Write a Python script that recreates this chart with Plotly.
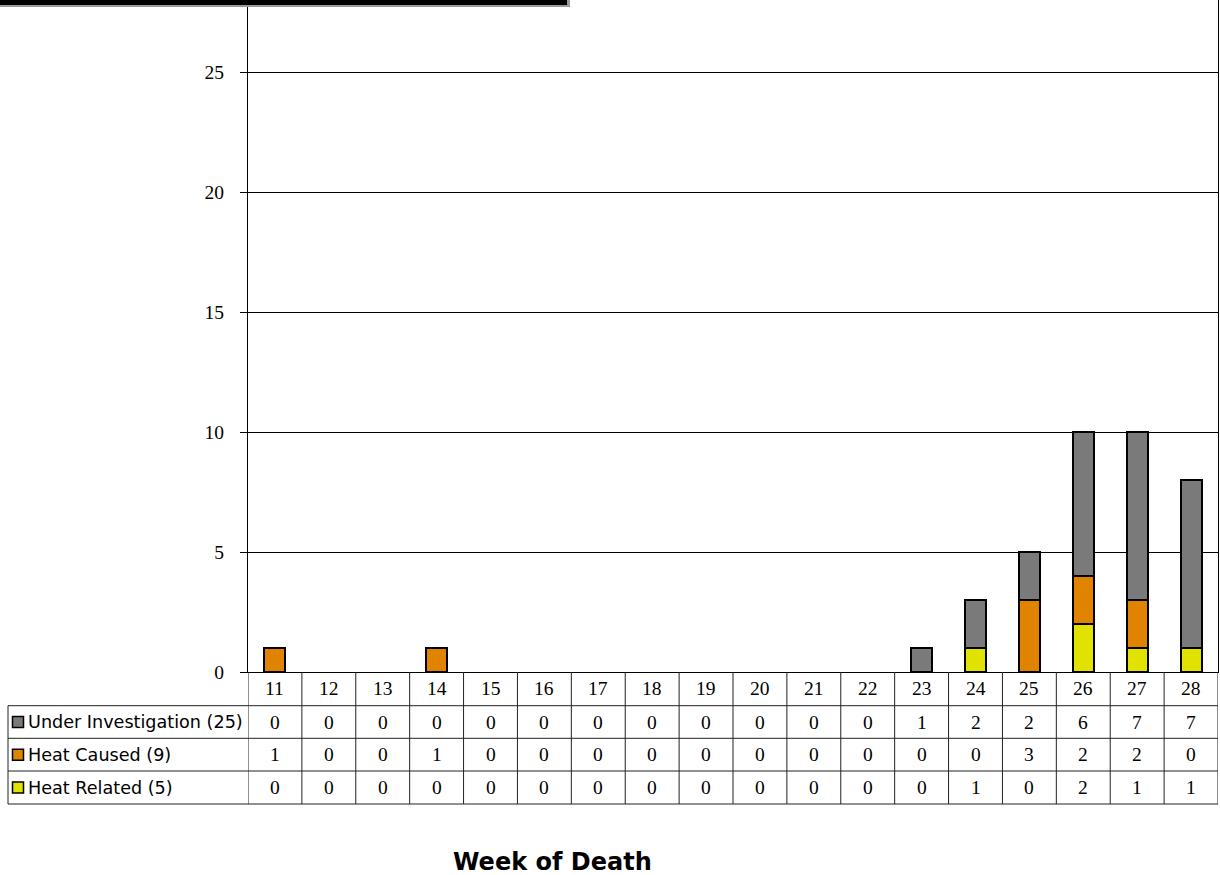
import plotly.graph_objects as go

# ---- data ----
weeks = [11, 12, 13, 14, 15, 16, 17, 18, 19, 20, 21, 22, 23, 24, 25, 26, 27, 28]
under_investigation = [0, 0, 0, 0, 0, 0, 0, 0, 0, 0, 0, 0, 1, 2, 2, 6, 7, 7]
heat_caused = [1, 0, 0, 1, 0, 0, 0, 0, 0, 0, 0, 0, 0, 0, 3, 2, 2, 0]
heat_related = [0, 0, 0, 0, 0, 0, 0, 0, 0, 0, 0, 0, 0, 1, 0, 2, 1, 1]
series_names = ["Under Investigation", "Heat Caused", "Heat Related"]
y_ticks = [0, 5, 10, 15, 20, 25]
x_title = "Week of Death"

# ---- styling ----
W, H = 1220, 875
L, R, T, B = 248, 2, 0, 203
PW, PH = W - L - R, H - T - B
colors = {"Under Investigation": "#7a7a7a", "Heat Caused": "#E08400", "Heat Related": "#E2E200"}
num_font = dict(family="Liberation Serif", size=19.5, color="black")
lab_font = dict(family="DejaVu Sans", size=17.6, color="black")


def px_x(p):
    return (p - L) / PW


def px_y(p):
    return (T + PH - p) / PH


series = {
    "Heat Related": heat_related,
    "Heat Caused": heat_caused,
    "Under Investigation": under_investigation,
}

fig = go.Figure()
for name in ["Heat Related", "Heat Caused", "Under Investigation"]:
    vals = series[name]
    fig.add_trace(go.Bar(
        x=weeks, y=[v if v else None for v in vals], name=name,
        width=0.39,
        marker=dict(color=colors[name], line=dict(color="black", width=2.2)),
        showlegend=False,
    ))

shapes = []
annotations = []

# table geometry (pixel rows)
row_edges = [672, 705.7, 738.3, 771, 804]
table_left = 8
line = dict(color="#222222", width=1)

# horizontal lines
for yy in row_edges[1:]:
    shapes.append(dict(type="line", xref="paper", yref="paper",
                       x0=px_x(table_left), x1=1, y0=px_y(yy), y1=px_y(yy), line=line))
# legend column left border
shapes.append(dict(type="line", xref="paper", yref="paper",
                   x0=px_x(table_left), x1=px_x(table_left),
                   y0=px_y(row_edges[1]), y1=px_y(row_edges[-1]), line=line))
# vertical column separators
for w in weeks + [weeks[-1] + 1]:
    shapes.append(dict(type="line", xref="x", yref="paper",
                       x0=w - 0.5, x1=w - 0.5, y0=px_y(row_edges[-1]), y1=0, line=line))

# header: week numbers
hdr_y = px_y((row_edges[0] + row_edges[1]) / 2)
for w in weeks:
    annotations.append(dict(x=w, y=hdr_y, xref="x", yref="paper", text=str(w),
                            showarrow=False, font=num_font, xanchor="center", yanchor="middle"))

rows = [("Under Investigation", under_investigation),
        ("Heat Caused", heat_caused),
        ("Heat Related", heat_related)]
for i, (name, vals) in enumerate(rows):
    yc_px = (row_edges[i + 1] + row_edges[i + 2]) / 2
    yc = px_y(yc_px)
    label = f"{name} ({sum(vals)})"
    annotations.append(dict(x=px_x(26), y=yc, xref="paper", yref="paper", text=label,
                            showarrow=False, font=lab_font, xanchor="left", yanchor="middle"))
    shapes.append(dict(type="rect", xref="paper", yref="paper",
                       x0=px_x(12.5), x1=px_x(23.5), y0=px_y(yc_px + 5.5), y1=px_y(yc_px - 5.5),
                       fillcolor=colors[name], line=dict(color="black", width=1.5)))
    for w, v in zip(weeks, vals):
        annotations.append(dict(x=w, y=yc, xref="x", yref="paper", text=str(v),
                                showarrow=False, font=num_font, xanchor="center", yanchor="middle"))

# x title
annotations.append(dict(x=px_x(552), y=px_y(862), xref="paper", yref="paper", text=f"<b>{x_title}</b>",
                        showarrow=False, font=dict(family="DejaVu Sans", size=24, color="black"),
                        xanchor="center", yanchor="middle"))

# cut-off title bar at the top
shapes.append(dict(type="rect", xref="paper", yref="paper", x0=px_x(0), x1=px_x(570),
                   y0=px_y(7), y1=px_y(0), fillcolor="#9a9a9a", line=dict(width=0), layer="above"))
shapes.append(dict(type="rect", xref="paper", yref="paper", x0=px_x(0), x1=px_x(567),
                   y0=px_y(5), y1=px_y(0), fillcolor="black", line=dict(width=0), layer="above"))

fig.update_layout(
    width=W, height=H,
    margin=dict(l=L, r=R, t=T, b=B, pad=0),
    paper_bgcolor="white", plot_bgcolor="white",
    barmode="stack", bargap=0,
    shapes=shapes, annotations=annotations,
    xaxis=dict(range=[weeks[0] - 0.5, weeks[-1] + 0.5], showticklabels=False, ticks="",
               showgrid=False, zeroline=False, showline=True, linecolor="black", linewidth=1),
    yaxis=dict(range=[0, 28], tickvals=y_ticks, ticks="outside", ticklen=7, tickcolor="black",
               tickwidth=1, showgrid=True, gridcolor="black", gridwidth=1, zeroline=False,
               showline=True, linecolor="black", linewidth=1, mirror=True,
               tickfont=num_font, ticklabelstandoff=12),
)

fig.write_html("out.html", config={"displayModeBar": False},
               post_script="document.body.style.margin='0';")
